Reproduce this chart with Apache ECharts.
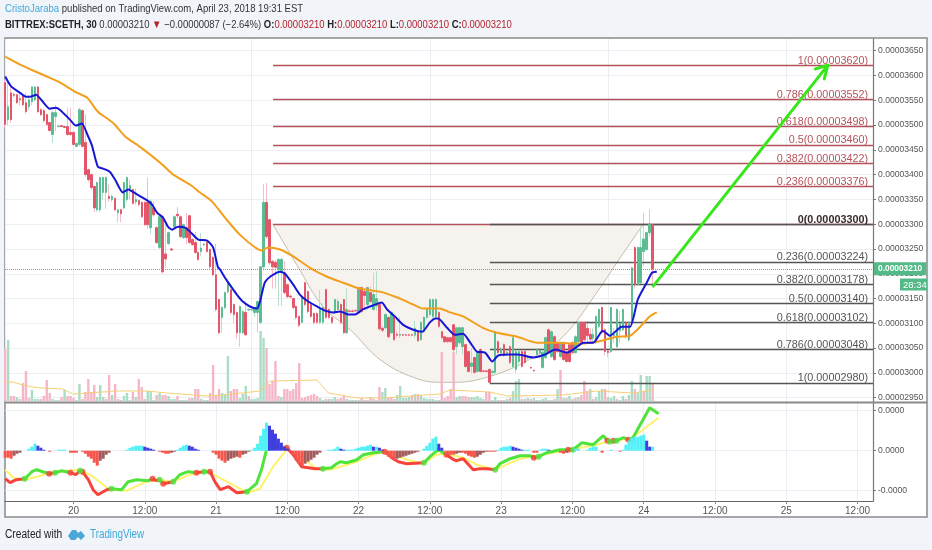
<!DOCTYPE html>
<html><head><meta charset="utf-8">
<style>html,body{margin:0;padding:0;background:#f1f4f9}#c{width:932px;height:550px}</style>
<script src="https://cdn.jsdelivr.net/npm/echarts@6/dist/echarts.min.js"></script></head>
<body><div id="c"></div>
<script>
const hourStart=-11.5, hourStep=0.5;
const xMin=-11.53, xMax=134.6, yMin=2941.3, yMax=3673.6;
const xTicks=[0,12,24,36,48,60,72,84,96,108,120,132];
const xLabels=['20','12:00','21','12:00','22','12:00','23','12:00','24','12:00','25','12:00'];
const priceTicks=[3650,3600,3550,3500,3450,3400,3350,3300,3250,3200,3150,3100,3050,3000,2950];
// open, close, low, high in units of 0.00000001
const candles=[[3586,3501,3495,3590],[3511,3537,3500,3590],[3565,3511,3505,3580],[3562,3560,3555,3565],[3561,3545,3543,3563],[3553,3551,3540,3562],[3560,3541,3538,3562],[3545,3527,3523,3565],[3537,3551,3530,3560],[3547,3577,3540,3578],
[3551,3577,3548,3578],[3577,3527,3525,3578],[3531,3521,3518,3534],[3529,3509,3505,3533],[3521,3501,3498,3523],[3505,3489,3486,3507],[3481,3525,3464,3528],[3517,3525,3488,3540],[3497,3498,3495,3500],[3499,3497,3496,3500],
[3497,3495,3494,3498],[3497,3481,3478,3535],[3485,3481,3478,3535],[3485,3461,3458,3487],[3457,3463,3455,3465],[3461,3531,3458,3535],[3529,3457,3455,3532],[3465,3400,3395,3522],[3410,3390,3385,3412],[3400,3374,3370,3402],
[3376,3333,3325,3378],[3329,3384,3325,3386],[3329,3394,3325,3396],[3364,3394,3350,3396],[3364,3394,3331,3396],[3356,3352,3345,3380],[3350,3356,3345,3360],[3352,3329,3326,3354],[3323,3329,3304,3331],[3329,3321,3304,3331],
[3333,3384,3330,3386],[3350,3394,3345,3396],[3370,3378,3350,3390],[3370,3342,3340,3372],[3345,3350,3340,3372],[3348,3340,3336,3350],[3344,3315,3312,3346],[3344,3299,3296,3346],[3344,3299,3290,3394],[3293,3346,3280,3350],
[3333,3319,3315,3346],[3293,3263,3260,3296],[3253,3315,3250,3318],[3315,3204,3200,3318],[3240,3230,3212,3300],[3261,3283,3258,3285],[3250,3248,3246,3252],[3295,3315,3292,3318],[3320,3317,3312,3335],[3315,3275,3272,3318],
[3273,3299,3270,3301],[3293,3273,3260,3322],[3317,3263,3260,3319],[3269,3259,3256,3272],[3263,3243,3240,3285],[3243,3229,3226,3245],[3245,3252,3235,3282],[3258,3260,3255,3262],[3263,3245,3242,3265],[3249,3214,3210,3251],
[3233,3198,3195,3235],[3198,3128,3124,3260],[3148,3081,3077,3150],[3112,3132,3081,3134],[3132,3162,3128,3164],[3164,3184,3160,3190],[3168,3122,3118,3170],[3138,3118,3100,3140],[3122,3081,3068,3124],[3081,3134,3053,3136],
[3081,3124,3078,3126],[3122,3077,3074,3145],[3127,3128,3125,3130],[3127,3128,3125,3130],[3122,3132,3113,3134],[3122,3144,3081,3146],[3102,3214,3098,3216],[3214,3344,3210,3381],[3344,3275,3270,3383],[3309,3222,3218,3311],
[3225,3214,3170,3228],[3223,3213,3170,3228],[3208,3229,3135,3232],[3202,3229,3135,3232],[3202,3162,3158,3225],[3178,3154,3150,3180],[3155,3153,3150,3158],[3150,3132,3128,3152],[3134,3112,3108,3136],[3114,3096,3092,3116],
[3102,3154,3100,3156],[3182,3138,3134,3184],[3164,3124,3120,3166],[3138,3114,3110,3140],[3120,3102,3098,3122],[3120,3102,3098,3122],[3102,3128,3098,3167],[3102,3132,3098,3140],[3168,3112,3108,3170],[3128,3112,3108,3130],
[3112,3102,3098,3114],[3124,3148,3120,3150],[3128,3144,3124,3150],[3138,3102,3098,3140],[3148,3081,3078,3150],[3081,3128,3078,3170],[3125,3124,3122,3128],[3125,3124,3122,3128],[3126,3125,3122,3128],[3124,3172,3120,3174],
[3172,3124,3120,3174],[3164,3156,3130,3172],[3138,3172,3134,3174],[3162,3144,3140,3175],[3128,3158,3125,3202],[3135,3150,3125,3205],[3138,3089,3085,3140],[3090,3086,3082,3094],[3091,3118,3088,3120],[3112,3073,3070,3114],
[3081,3122,3078,3124],[3114,3067,3064,3116],[3078,3076,3070,3085],[3076,3078,3070,3112],[3077,3076,3074,3079],[3077,3076,3074,3079],[3077,3076,3074,3079],[3077,3076,3074,3079],[3076,3090,3070,3105],[3083,3065,3062,3085],
[3067,3102,3064,3104],[3083,3112,3080,3114],[3112,3128,3108,3130],[3118,3148,3114,3150],[3114,3148,3110,3150],[3114,3148,3110,3150],[3122,3094,3090,3124],[3083,3071,3068,3085],[3073,3063,3060,3075],[3071,3063,3060,3073],
[3071,3063,3060,3073],[3097,3047,3042,3099],[3053,3091,3037,3093],[3061,3091,3057,3093],[3053,3091,3037,3093],[3057,3013,3010,3059],[3043,3003,3000,3045],[3013,3020,2998,3050],[3031,3001,2998,3033],[3003,3041,3000,3045],
[3047,3003,3000,3050],[3004,3003,3001,3006],[3004,3003,3001,3006],[3007,2981,2979,3010],[3001,3003,2995,3006],[3001,3083,2998,3086],[3063,3041,3038,3066],[3040,3048,3035,3052],[3057,3035,3032,3060],[3040,3042,3035,3046],
[3053,3021,3017,3056],[3013,3071,3008,3075],[3007,3043,3000,3046],[3023,3043,3018,3046],[3043,3013,3010,3046],[3043,3021,3018,3046],[3030,3032,3025,3036],[3011,3010,3008,3013],[3005,3004,3002,3007],[3037,3047,3034,3050],
[3040,3046,3030,3050],[3011,3041,3008,3044],[3031,3071,3028,3074],[3087,3041,3038,3090],[3033,3083,3030,3086],[3073,3027,3024,3076],[3061,3043,3040,3064],[3033,3061,3030,3064],[3061,3027,3024,3064],[3041,3023,3020,3044],
[3057,3023,3020,3060],[3061,3041,3038,3064],[3041,3073,3038,3076],[3063,3102,3060,3104],[3102,3061,3058,3104],[3102,3067,3064,3104],[3090,3075,3060,3105],[3078,3068,3060,3090],[3070,3078,3062,3090],[3061,3114,3058,3116],
[3094,3128,3090,3130],[3132,3081,3078,3134],[3087,3043,3035,3090],[3044,3041,3032,3048],[3043,3132,3040,3134],[3075,3078,3060,3090],[3053,3128,3050,3130],[3085,3100,3060,3125],[3087,3128,3084,3130],[3102,3073,3070,3104],
[3067,3102,3062,3104],[3102,3212,3098,3214],[3253,3178,3170,3255],[3178,3253,3175,3255],[3182,3253,3178,3295],[3245,3270,3215,3323],[3249,3283,3245,3285],[3283,3300,3275,3330],[3299,3210,3178,3301]];
// signed volume: positive green bar, negative pink bar (arbitrary units)
const volumes=[-52,61,-5,-5,4,-2,-18,-30,-3,11,2,2,-2,-5,-21,-8,2,1,1,-4,11,-5,-5,-3,1,17,-2,-9,-22,-9,-16,4,16,4,-2,-26,6,-17,-2,1,5,8,1,-9,4,-22,-14,-2,10,10,1,-6,8,-6,-6,5,2,2,-5,1,1,1,-3,3,-12,-12,2,1,1,-8,-36,-6,-12,8,7,45,-10,-12,-12,
3,7,15,-5,2,2,3,70,63,-53,-17,-20,-40,-5,4,-12,-12,-10,-12,-18,-38,-3,-4,-5,-6,-7,-5,3,1,-2,2,2,4,-2,-3,-6,2,1,1,1,1,-3,-1,1,-4,-2,1,-14,9,13,-4,-3,-2,6,15,3,3,4,-6,7,-7,6,3,2,2,2,1,1,-49,-3,-5,-12,-49,4,5,-5,-5,-4,4,4,5,3,2,-9,-9,1,4,1,-1,1,2,-3,10,20,22,-2,2,3,-2,3,1,1,2,3,-1,1,-2,12,-31,3,-3,5,2,-3,4,-6,-20,-10,12,-2,4,10,12,-12,4,3,5,-2,1,5,-2,6,20,-12,8,26,-10,25,25,-17];
const volAvgHours=[-11.5,-10.2,-8.5,-6.8,-5.1,-1.8,-0.1,7.3,12.4,15.7,22.5,25.2,31.4,33.1,41,42.9,47.7,52.1,61.7,63.4,70.1,73,82.4,88.1,94.2,97.6];
const volAvg=[19,19,16,14,13,12,7,10,10,8,5,6,10,20,21,8,3,3,7,11,9,5,6,10,8,11];
const blueHours=[-11.5,-10.5,-9,-8,-7.3,-6.3,-5.3,-4,-3,-2.3,-0.6,0.4,1.4,2.4,3.1,4.1,5,6.1,7,8.3,9.2,10.7,12.4,13.2,14.1,15.1,15.9,16.6,17.6,18.8,19.6,21,22.5,23.5,24.3,24.7,25.5,26.3,27.5,28.5,29.7,30.9,31.4,32.2,33.1,34.8,35.6,37,38.1,39.5,41,42.3,43.7,44.9,46.2,47.4,48.7,50.4,51.9,52.8,54.1,55.5,57.2,58.7,60,60.9,61.4,62.9,64.2,65.6,66.8,67.9,69.3,70.5,71.5,73.5,74.8,77.4,79.4,81.1,83.1,84.8,85.8,87.5,89.1,90.3,92.3,93.7,95,96.5,97.4,98.2];
const bluePrices=[3598,3578,3565,3557,3557,3561,3549,3533,3535,3531,3511,3499,3503,3479,3459,3416,3412,3406,3390,3364,3370,3360,3348,3340,3323,3313,3295,3289,3295,3293,3285,3269,3267,3253,3214,3208,3192,3178,3158,3144,3134,3130,3144,3182,3194,3204,3200,3178,3158,3144,3134,3126,3122,3124,3118,3118,3128,3136,3142,3128,3114,3097,3087,3083,3102,3110,3110,3091,3077,3079,3061,3043,3041,3023,3035,3037,3037,3031,3037,3047,3041,3053,3061,3061,3085,3075,3093,3093,3148,3182,3202,3204];
const orangeHours=[-11.5,-9,-6.8,-4.5,-2.3,0.3,2.3,4.1,6.6,8.7,11.2,14.6,16.8,19.6,21.3,23.3,25.8,28,30.6,31.7,32.7,34.8,37,39.8,42.7,45.4,48.2,51.6,54.5,57.2,58.8,61.7,63.4,65.6,68.9,71.3,74.7,78,81.4,84.8,88.1,91.5,93.7,95.4,97,98.2];
const orangePrices=[3638,3622,3610,3598,3586,3567,3555,3527,3505,3477,3456,3424,3400,3380,3364,3346,3309,3279,3253,3247,3253,3249,3235,3212,3194,3182,3170,3164,3152,3138,3130,3130,3122,3114,3091,3081,3073,3061,3061,3059,3063,3073,3075,3093,3114,3122];
const cupHours=[33.6,37.6,42,46.6,51.6,57.2,61.7,64.2,70.1,76.8,82.4,88.1,91.5,95.9];
const cupPrices=[3299,3218,3134,3087,3027,2991,2981,2981,2993,3027,3073,3162,3223,3299];
const fibUpper=[[1,3620],[0.786,3552],[0.618,3498],[0.5,3460],[0.382,3422],[0.236,3376],[0,3300]];
const fibLower=[[0,3300],[0.236,3224],[0.382,3178],[0.5,3140],[0.618,3102],[0.786,3048],[1,2980]];
const fibUpperFrom=33.6, fibLowerFrom=70.1, lastPrice=3210;
const arrowHours=[97.6,127,124.9,127,126.4];
const arrowPrices=[3175,3621,3613,3621,3593];
// indicator panel (arbitrary units)
const histValues=[-7,-7,-8,-5,-3,-2,0,0,2,4,7,5,3,1,0,-1,0,0,1,1,1,0,-2,-2,-2,0,
-1,-3,-6,-8,-12,-15,-10,-8,-4,-2,0,0,0,0,0,1,3,4,5,5,5,4,3,2,1,0,-1,-2,-3,-3,-2,-1,1,3,5,6,5,4,2,1,0,0,0,0,-2,-4,-8,-10,-12,-10,-8,-7,-6,-7,-4,-3,-1,1,3,7,15,22,28,25,21,17,12,8,4,2,-1,-4,-10,-13,-15,-13,-11,-9,-7,-4,-2,
0,0,1,1,2,4,2,1,1,1,1,2,3,4,4,5,6,4,4,3,1,-3,-6,-8,-9,-8,-7,-6,-5,-4,-3,-2,-1,0,2,5,8,12,14,7,3,-1,-3,-4,-4,-3,-2,-2,-3,-5,-6,-7,-6,-4,-2,-1,-1,-1,-1,1,3,4,4,5,4,3,2,1,1,1,0,-2,-2,1,2,2,1,0,0,0,-2,-3,-2,0,0,2,2,0,0,1,3,4,4,0,-2,0,0,1,0,0,-1,1,6,10,13,14,14,15,16,10,4,4];
const macdHours=[-11.5,-10.7,-9.6,-8.2,-7,-6.2,-4.1,-3.1,-2,-0.5,0.4,1.1,1.5,2.5,3.3,4.1,5.6,6.4,8.1,9.2,10.6,12.6,13.3,14,14.5,15.1,16.8,17.9,19.3,20.7,22,23,23.8,24.7,26.1,27.5,29.2,30.8,31.7,32.5,34.2,35.9,37,38.4,40.7,42,43.4,44.3,44.9,46,47.7,48.8,50.5,52.4,53.8,54.7,56.1,59,60,61.4,62.8,64,64.4,65.6,67.3,68.4,69.6,71,71.8,73.5,75.2,76.9,77.5,78.3,79.7,81.9,83.3,84.1,85.6,87.5,89.2,89.9,90.3,90.9,91.4,92.6,93.4,94,97,98.5];
const macdValues=[-28,-32,-29,-28,-21,-19,-23,-22,-20,-22,-24,-20,-21,-29,-39,-44,-39,-38,-39,-31,-29,-30,-28,-30,-29,-33,-31,-24,-21,-22,-21,-21,-31,-39,-36,-42,-41,-33,-18,1,4,3,-4,-16,-18,-18,-17,-13,-11,-12,-9,-4,-2,-1,-8,-11,-13,-12,-6,1,-4,-9,-10,-8,-19,-18,-18,-19,-13,-8,-5,-5,-7,-6,-2,1,1,1,8,6,15,10,9,10,10,13,11,11,43,37];
// colour of the segment that starts at each point: r red, g green
const macdColors=('rrr'+'ggg'+'r'+'gg'+'rr'+'g'+'rrrrr'+'ggggg'+'rr'+'g'+'r'+'ggg'+'r'+'g'+'rrrrr'+'ggggg'+'rrrr'+'gggggggg'+'rrrr'+'ggg'+'rrrrrrr'+'ggggg'+'r'+'ggg'+'r'+'gggg'+'r'+'g'+'r'+'gg'+'r'+'ggg').split('');
const signalHours=[-11.5,-10.1,-8.2,-6.2,-4,-1.1,1.1,3.3,6.1,9,12.3,14.6,16.8,19.6,22.4,25.8,29.2,31.4,33.6,35.9,38.1,41,43.2,47.7,50.5,52.4,56.1,58.9,61.1,62.8,65.6,67.9,71,75.2,79.7,83.6,88.1,90.3,93.7,95.9,98.5];
const signalValues=[-19,-27,-29,-26,-22,-20,-19,-26,-39,-40,-31,-29,-31,-24,-20,-31,-42,-38,-16,1,-6,-18,-19,-11,-4,0,-9,-13,-4,-3,-7,-14,-19,-8,-3,1,6,10,12,21,33];
const indicatorTicks=[40,0,-40];
const FONT='"Liberation Sans",Arial,sans-serif';

const barHours=candles.map((c,i)=>hourStart+i*hourStep);
const pairs=(a,b)=>a.map((v,i)=>[v,b[i]]);
const fmtPrice=p=>(p/1e8).toFixed(8);
const fibLine=(from,lv,col,bold)=>[{coord:[from,lv[1]],lineStyle:{color:col},
  label:{show:true,position:'insideEndTop',distance:[5,-1],formatter:lv[0]+'('+fmtPrice(lv[1])+')',color:bold?'#3a2a2a':col,fontWeight:bold?'bold':'normal',fontSize:10.8,fontFamily:FONT}},{coord:[xMax,lv[1]]}];
const gridLine={show:true,lineStyle:{color:'#ebeef3',width:1}};

// bright MACD line: split in red and green parts
const redPts=[],greenPts=[],dotsR=[],dotsG=[];
macdHours.forEach((h,i)=>{
  const v=macdValues[i],c=macdColors[i],prev=i?macdColors[i-1]:c;
  if(c==='r'){redPts.push([h,v]);}else{if(prev==='r')redPts.push([h,v],[h,null]);}
  if(c==='g'){greenPts.push([h,v]);}else{if(prev==='g')greenPts.push([h,v],[h,null]);}
  if(i&&c!==prev)(c==='r'?dotsR:dotsG).push([h,v]);
});
const histData=histValues.map((v,i)=>{
  const p=i?histValues[i-1]:0;
  const col=v>=0?(v>=p?'#4ff0f7':'#3f3fe0'):(v<=p?'#f8564c':'#a35a5a');
  return {value:[barHours[i],v],itemStyle:{color:col}};
});
const xBase={type:'value',min:xMin,max:xMax,axisLine:{show:false,onZero:false},axisTick:{show:false},axisLabel:{show:false},splitLine:Object.assign({customValues:xTicks},gridLine)};

const chart=echarts.init(document.getElementById('c'),null,{renderer:'canvas'});
chart.setOption({
 animation:false,backgroundColor:'#f1f4f9',textStyle:{fontFamily:FONT},
 graphic:[
  {type:'rect',z:-10,shape:{x:5,y:38,width:922,height:479},style:{fill:'#fff',stroke:'#8a8a8a',lineWidth:1.5}},
  {type:'line',z:50,shape:{x1:5,y1:402.5,x2:927,y2:402.5},style:{stroke:'#8a8a8a',lineWidth:2}},
  {type:'text',x:5,y:3,scaleX:0.83,style:{fontFamily:FONT,fontSize:11.5,text:'{a|CristoJaraba}{b| published on TradingView.com, April 23, 2018 19:31 EST}',rich:{a:{fill:'#3fa9d8',fontFamily:FONT,fontSize:11.5},b:{fill:'#333',fontFamily:FONT,fontSize:11.5}}}},
  {type:'text',x:5,y:19,scaleX:0.825,style:{fontFamily:FONT,fontSize:11.5,text:'{k|BITTREX:SCETH, 30} {b|0.00003210} {r|▼} {b|−0.00000087 (−2.64%)} {k|O:}{r|0.00003210} {k|H:}{r|0.00003210} {k|L:}{r|0.00003210} {k|C:}{r|0.00003210}',rich:{k:{fill:'#222',fontFamily:FONT,fontWeight:'bold',fontSize:11.5},b:{fill:'#333',fontFamily:FONT,fontSize:11.5},r:{fill:'#b5222d',fontFamily:FONT,fontSize:11.5}}}},
  {type:'text',x:5,y:529,scaleX:0.85,style:{fontFamily:FONT,fontSize:12,fill:'#222',text:'Created with'}},
  {type:'polygon',shape:{points:[[68,536],[72,530],[76,530],[78,533],[81,531],[85,536],[81,540],[78,537],[75,540],[71,540]]},style:{fill:'#4aa8d8'}},
  {type:'text',x:90,y:529,scaleX:0.82,style:{fontFamily:FONT,fontSize:12,fill:'#3fa9d8',text:'TradingView'}},
  {type:'rect',z:60,shape:{x:900,y:278.5,width:27,height:12},style:{fill:'#53b987'}},
  {type:'text',z:61,x:903,y:280,style:{fontFamily:FONT,fontSize:9.5,fill:'#fff',text:'28:34'}}
 ],
 grid:[
  {left:5,right:59,top:39,height:363},
  {left:5,right:59,top:39,height:362},
  {left:5,right:59,top:402,height:99}
 ],
 xAxis:[
  Object.assign({gridIndex:0},xBase),
  {gridIndex:1,type:'value',min:xMin,max:xMax,show:false},
  {gridIndex:2,type:'value',min:xMin,max:xMax,
   axisLine:{show:true,onZero:false,lineStyle:{color:'#666',width:1.2}},
   axisTick:{show:true,length:3,customValues:xTicks,lineStyle:{color:'#888'}},
   axisLabel:{show:true,customValues:xTicks,color:'#555',fontSize:10,margin:5,fontFamily:FONT,formatter:v=>xLabels[xTicks.indexOf(v)]},
   splitLine:Object.assign({customValues:xTicks},gridLine)}
 ],
 yAxis:[
  {gridIndex:0,type:'value',position:'right',min:yMin,max:yMax,
   axisLine:{show:true,onZero:false,lineStyle:{color:'#777',width:1.2}},
   axisTick:{show:true,length:3,customValues:priceTicks,lineStyle:{color:'#777'}},
   axisLabel:{show:true,customValues:priceTicks,color:'#555',fontSize:8.6,margin:5,fontFamily:FONT,formatter:fmtPrice},
   splitLine:Object.assign({customValues:priceTicks},gridLine)},
  {gridIndex:1,type:'value',min:0,max:362,show:false},
  {gridIndex:2,type:'value',position:'right',min:-50.3,max:48.7,
   axisLine:{show:true,onZero:false,lineStyle:{color:'#777',width:1.2}},
   axisTick:{show:true,length:3,customValues:indicatorTicks,lineStyle:{color:'#777'}},
   axisLabel:{show:true,customValues:indicatorTicks,color:'#555',fontSize:8.6,margin:5,fontFamily:FONT,formatter:v=>v<0?'-0.0000':'0.0000'},
   splitLine:Object.assign({customValues:indicatorTicks},gridLine)}
 ],
 series:[
  {type:'line',name:'cup',z:1,xAxisIndex:0,yAxisIndex:0,data:pairs(cupHours,cupPrices),showSymbol:false,smooth:0.4,lineStyle:{color:'#c4bda9',width:1},areaStyle:{color:'#f6f3ee',opacity:1,origin:3300}},
  {type:'bar',name:'volume',z:2,xAxisIndex:1,yAxisIndex:1,barWidth:2.4,
   data:volumes.map((v,i)=>({value:[barHours[i],Math.abs(v)],itemStyle:{color:v>=0?'#aadcc6':'#f5b6c6'}}))},
  {type:'line',name:'volume average',z:3,xAxisIndex:1,yAxisIndex:1,data:pairs(volAvgHours,volAvg),showSymbol:false,lineStyle:{color:'#f7cf77',width:1}},
  {type:'candlestick',name:'wicks',z:4,xAxisIndex:0,yAxisIndex:0,barWidth:1,encode:{x:0,y:[1,2,3,4]},
   data:candles.map((c,i)=>[barHours[i],c[0],c[1],c[2],c[3]]),
   itemStyle:{color:'#b3e0ca',color0:'#f5bcc8',borderColor:'#b3e0ca',borderColor0:'#f5bcc8',borderWidth:1}},
  {type:'candlestick',name:'bodies',z:5,xAxisIndex:0,yAxisIndex:0,barWidth:2,encode:{x:0,y:[1,2,3,4]},
   data:candles.map((c,i)=>[barHours[i],c[0],c[1],Math.min(c[0],c[1]),Math.max(c[0],c[1])]),
   itemStyle:{color:'#5dbd92',color0:'#e4576a',borderColor:'#5dbd92',borderColor0:'#e4576a',borderWidth:1}},
  {type:'line',name:'slow average',z:6,xAxisIndex:0,yAxisIndex:0,data:pairs(orangeHours,orangePrices),showSymbol:false,smooth:0.2,lineStyle:{color:'#f29f1c',width:2}},
  {type:'line',name:'fast average',z:7,xAxisIndex:0,yAxisIndex:0,data:pairs(blueHours,bluePrices),showSymbol:false,smooth:0.2,lineStyle:{color:'#1616d6',width:2},
   markLine:{silent:true,symbol:'none',z:7,animation:false,
    data:[{yAxis:lastPrice,lineStyle:{type:'dotted',color:'#53b987',width:1},label:{show:true,position:'end',distance:1,formatter:fmtPrice(lastPrice),color:'#fff',fontWeight:'bold',fontSize:8.4,fontFamily:FONT,backgroundColor:'#53b987',padding:[3,4,2,4]}}]}},
  {type:'line',name:'fib upper',z:8,xAxisIndex:0,yAxisIndex:0,data:[],
   markLine:{silent:true,symbol:'none',animation:false,lineStyle:{width:1.3,type:'solid'},
    data:fibUpper.map(l=>fibLine(fibUpperFrom,l,'#b4525a',false)).map((d,i)=>{if(fibUpper[i][0]===0)d[0].label={show:false};return d;})}},
  {type:'line',name:'fib lower',z:9,xAxisIndex:0,yAxisIndex:0,data:[],
   markLine:{silent:true,symbol:'none',animation:false,lineStyle:{width:1.3,type:'solid'},
    data:fibLower.map(l=>fibLine(fibLowerFrom,l,'#555',l[0]===0))}},
  {type:'line',name:'target arrow',z:10,xAxisIndex:0,yAxisIndex:0,data:pairs(arrowHours,arrowPrices),showSymbol:false,lineStyle:{color:'#36e81a',width:3,cap:'round',join:'round'}},
  {type:'line',name:'signal',z:2,xAxisIndex:2,yAxisIndex:2,data:pairs(signalHours,signalValues),showSymbol:false,lineStyle:{color:'#fdf36a',width:2}},
  {type:'line',name:'macd red',z:3,xAxisIndex:2,yAxisIndex:2,data:redPts,showSymbol:false,connectNulls:false,lineStyle:{color:'#f8433a',width:3}},
  {type:'line',name:'macd green',z:3,xAxisIndex:2,yAxisIndex:2,data:greenPts,showSymbol:false,connectNulls:false,lineStyle:{color:'#4fe33c',width:3}},
  {type:'scatter',name:'cross red',z:4,xAxisIndex:2,yAxisIndex:2,data:dotsR,symbolSize:6,itemStyle:{color:'#f8433a'}},
  {type:'scatter',name:'cross green',z:4,xAxisIndex:2,yAxisIndex:2,data:dotsG,symbolSize:6,itemStyle:{color:'#4fe33c'}},
  {type:'bar',name:'histogram',z:5,xAxisIndex:2,yAxisIndex:2,barWidth:3,data:histData}
 ]
});
</script></body></html>
